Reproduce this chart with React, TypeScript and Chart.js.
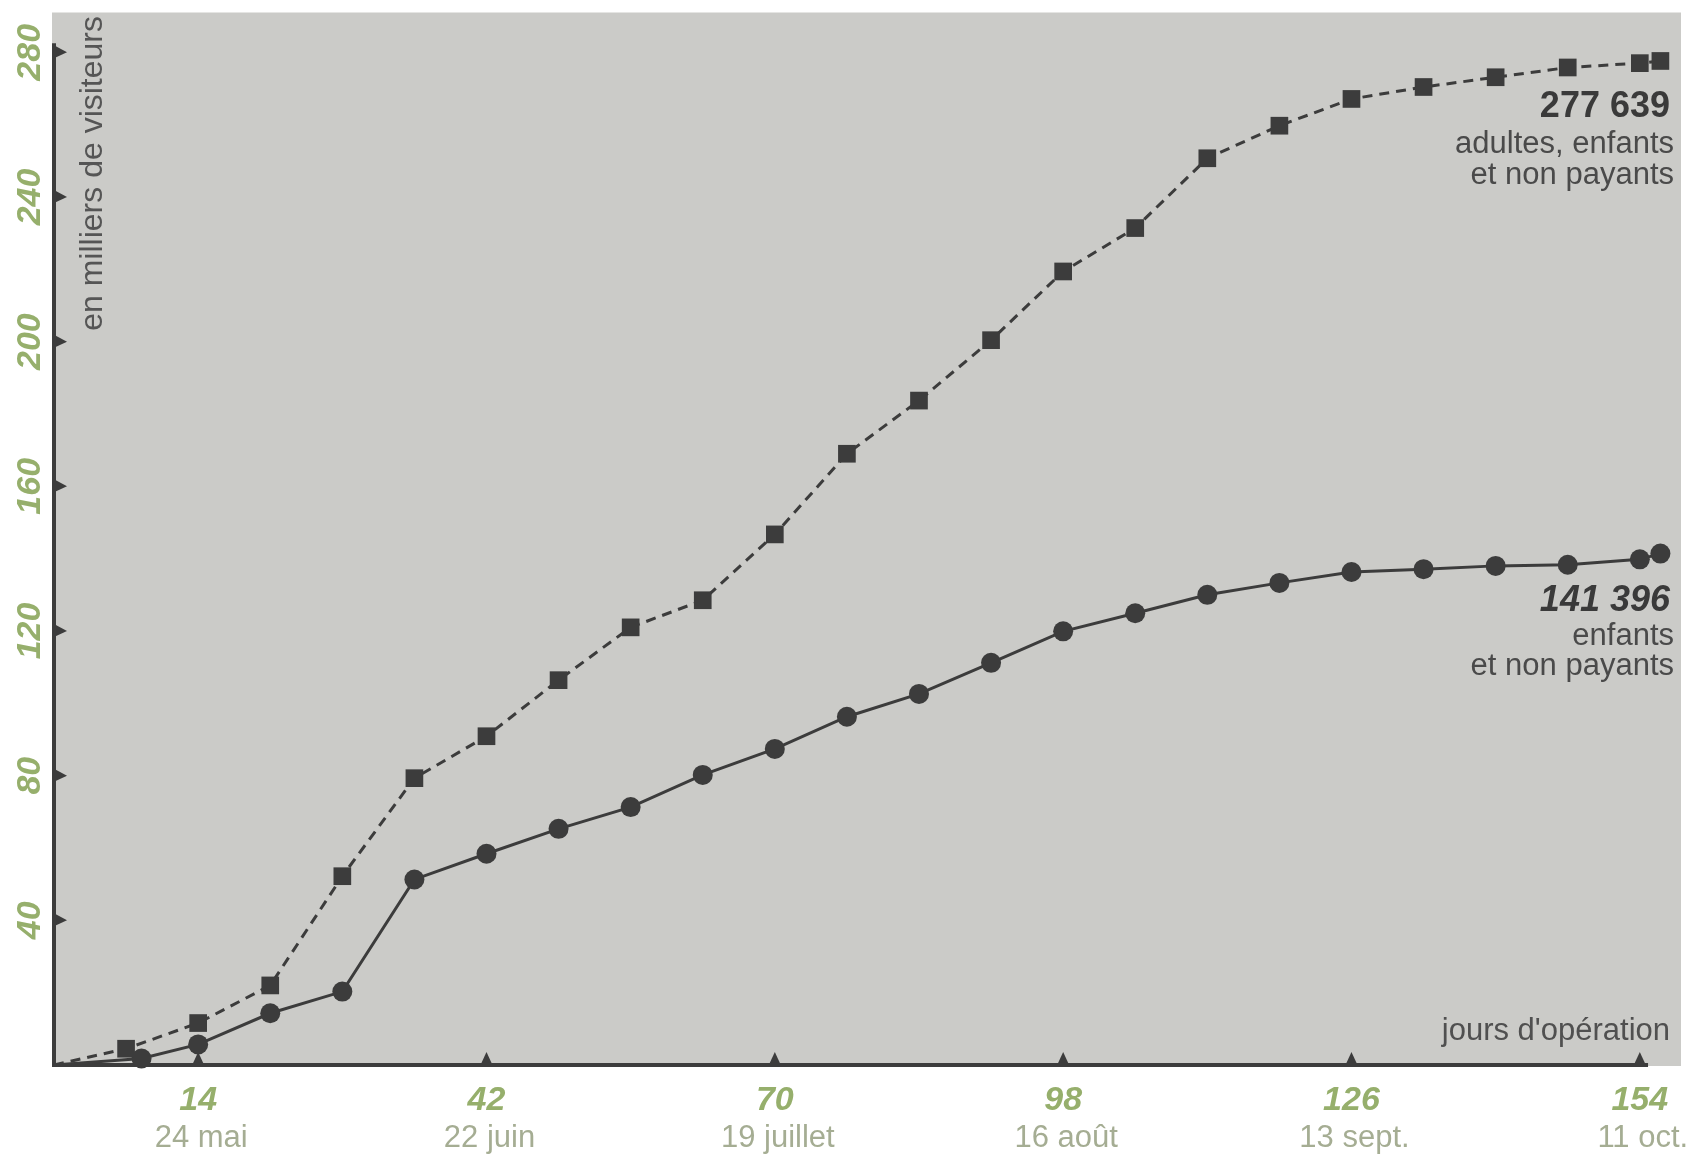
import React, { useEffect, useRef } from "react";
import { Chart, registerables } from "chart.js";

Chart.register(...registerables);

// ---- Data ----
const DAYS_TOTAL = [0, 7, 14, 21, 28, 35, 42, 49, 56, 63, 70, 77, 84, 91, 98, 105, 112, 119, 126, 133, 140, 147, 154, 156];
const TOTAL_VISITORS = [0, 4.5, 11.6, 22, 52.2, 79.3, 90.9, 106.4, 121, 128.5, 146.7, 169, 183.7, 200.4, 219.4, 231.4, 250.7, 259.7, 267.1, 270.4, 273.1, 275.8, 277, 277.6];
const DAYS_CHILD = [0, 8.5, 14, 21, 28, 35, 42, 49, 56, 63, 70, 77, 84, 91, 98, 105, 112, 119, 126, 133, 140, 147, 154, 156];
const CHILD_VISITORS = [0, 1.8, 5.7, 14.3, 20.3, 51.3, 58.4, 65.3, 71.3, 80.2, 87.4, 96.3, 102.6, 111.2, 119.9, 124.9, 130, 133.3, 136.3, 137.1, 138, 138.3, 139.8, 141.4];

const X_TICKS = [14, 42, 70, 98, 126, 154];
const X_DATES = ["24 mai", "22 juin", "19 juillet", "16 août", "13 sept.", "11 oct."];
const Y_TICKS = [40, 80, 120, 160, 200, 240, 280];

const Y_TITLE = "en milliers de visiteurs";
const X_TITLE = "jours d'opération";
const TOTAL_LABEL = ["277 639", "adultes, enfants", "et non payants"];
const CHILD_LABEL = ["141 396", "enfants", "et non payants"];

const FONT = "'Liberation Sans', Arial, sans-serif";
const INK = "#3c3c3c";
const GREEN = "#96af6c";
const DATE_COLOR = "#a5ad93";

const decorPlugin = {
  id: "decor",
  beforeDraw(chart: any) {
    const { ctx, chartArea } = chart;
    ctx.save();
    ctx.fillStyle = "#ffffff";
    ctx.fillRect(0, 0, chart.width, chart.height);
    ctx.fillStyle = "#cbcbc8";
    ctx.fillRect(chartArea.left - 2, chartArea.top, chartArea.right - chartArea.left + 2, chartArea.bottom - chartArea.top + 1);
    ctx.restore();
  },
  beforeDatasetsDraw(chart: any) {
    const { ctx, chartArea } = chart;
    const xs = chart.scales.x;
    const ys = chart.scales.y;
    const x0 = chartArea.left;
    const y0 = ys.getPixelForValue(0);
    ctx.save();
    ctx.strokeStyle = INK;
    ctx.fillStyle = INK;
    ctx.lineWidth = 4;
    // y axis
    ctx.beginPath();
    ctx.moveTo(x0, y0 + 2);
    ctx.lineTo(x0, ys.getPixelForValue(282.5));
    ctx.stroke();
    // x axis
    ctx.beginPath();
    ctx.moveTo(x0 - 2, y0);
    ctx.lineTo(xs.getPixelForValue(154.8), y0);
    ctx.stroke();
    // y tick triangles
    Y_TICKS.forEach((v) => {
      const y = ys.getPixelForValue(v);
      ctx.beginPath();
      ctx.moveTo(x0, y - 7);
      ctx.lineTo(x0 + 13, y);
      ctx.lineTo(x0, y + 6);
      ctx.closePath();
      ctx.fill();
    });
    // x tick triangles
    X_TICKS.forEach((d) => {
      const x = xs.getPixelForValue(d);
      ctx.beginPath();
      ctx.moveTo(x - 6, y0);
      ctx.lineTo(x, y0 - 13);
      ctx.lineTo(x + 6, y0);
      ctx.closePath();
      ctx.fill();
    });
    ctx.restore();
  },
  afterDraw(chart: any) {
    const { ctx } = chart;
    const xs = chart.scales.x;
    const ys = chart.scales.y;
    ctx.save();
    // x labels
    ctx.textAlign = "center";
    ctx.textBaseline = "middle";
    X_TICKS.forEach((d, i) => {
      const x = xs.getPixelForValue(d);
      ctx.fillStyle = GREEN;
      ctx.font = `italic bold 34px ${FONT}`;
      ctx.fillText(String(d), x, 1101);
      ctx.fillStyle = DATE_COLOR;
      ctx.font = `31px ${FONT}`;
      ctx.fillText(X_DATES[i], x + 3, 1138);
    });
    // y labels rotated
    Y_TICKS.forEach((v) => {
      const y = ys.getPixelForValue(v);
      ctx.save();
      ctx.translate(31, y);
      ctx.rotate(-Math.PI / 2);
      ctx.fillStyle = GREEN;
      ctx.font = `italic bold 34px ${FONT}`;
      ctx.textAlign = "center";
      ctx.textBaseline = "middle";
      ctx.fillText(String(v), 0, 0);
      ctx.restore();
    });
    // y title
    ctx.save();
    ctx.translate(93, 16);
    ctx.rotate(-Math.PI / 2);
    ctx.fillStyle = "#555555";
    ctx.font = `32px ${FONT}`;
    ctx.textAlign = "right";
    ctx.textBaseline = "middle";
    ctx.fillText(Y_TITLE, 0, 0);
    ctx.restore();
    // x title
    ctx.fillStyle = "#505050";
    ctx.font = `31px ${FONT}`;
    ctx.textAlign = "right";
    ctx.textBaseline = "middle";
    ctx.fillText(X_TITLE, 1670, 1031);
    // annotations
    const drawBlock = (lines: string[], ys0: number[], italic: boolean) => {
      lines.forEach((t, i) => {
        if (i === 0) {
          ctx.fillStyle = "#3a3a3a";
          ctx.font = `${italic ? "italic " : ""}bold 36px ${FONT}`;
          ctx.fillText(t, 1670, ys0[i]);
        } else {
          ctx.fillStyle = "#4a4a4a";
          ctx.font = `31px ${FONT}`;
          ctx.fillText(t, 1674, ys0[i]);
        }
      });
    };
    drawBlock(TOTAL_LABEL, [107, 144, 175], false);
    drawBlock(CHILD_LABEL, [601, 636, 666], true);
    ctx.restore();
  },
};

export default function App() {
  const ref = useRef<HTMLCanvasElement | null>(null);
  useEffect(() => {
    document.body.style.margin = "0";
    const canvas = ref.current;
    if (!canvas) return;
    const radius = (ctx: any) => (ctx.dataIndex === 0 ? 0 : 12.5);
    const cradius = (ctx: any) => (ctx.dataIndex === 0 ? 0 : 10);
    const chart = new Chart(canvas, {
      type: "line",
      data: {
        datasets: [
          {
            label: "adultes, enfants et non payants",
            data: DAYS_TOTAL.map((d, i) => ({ x: d, y: TOTAL_VISITORS[i] })),
            borderColor: INK,
            backgroundColor: INK,
            borderWidth: 3,
            borderDash: [10, 7],
            pointStyle: "rect",
            pointRadius: radius,
            pointBorderWidth: 0,
            tension: 0,
            clip: false,
          } as any,
          {
            label: "enfants et non payants",
            data: DAYS_CHILD.map((d, i) => ({ x: d, y: CHILD_VISITORS[i] })),
            borderColor: INK,
            backgroundColor: INK,
            borderWidth: 3,
            pointStyle: "circle",
            pointRadius: cradius,
            pointBorderWidth: 0,
            tension: 0,
            clip: false,
          } as any,
        ],
      },
      options: {
        animation: false,
        responsive: false,
        devicePixelRatio: 1,
        layout: { padding: { left: 54, right: 14, top: 11, bottom: 89 } },
        plugins: { legend: { display: false }, tooltip: { enabled: false } },
        scales: {
          x: { type: "linear", min: 0, max: 158, display: false },
          y: { type: "linear", min: 0, max: 291, display: false },
        },
      },
      plugins: [decorPlugin],
    });
    return () => chart.destroy();
  }, []);
  return (
    <div style={{ position: "absolute", left: 0, top: 0, width: 1695, height: 1154, background: "#fff" }}>
      <canvas ref={ref} width={1695} height={1154} style={{ width: 1695, height: 1154, display: "block" }} />
    </div>
  );
}
